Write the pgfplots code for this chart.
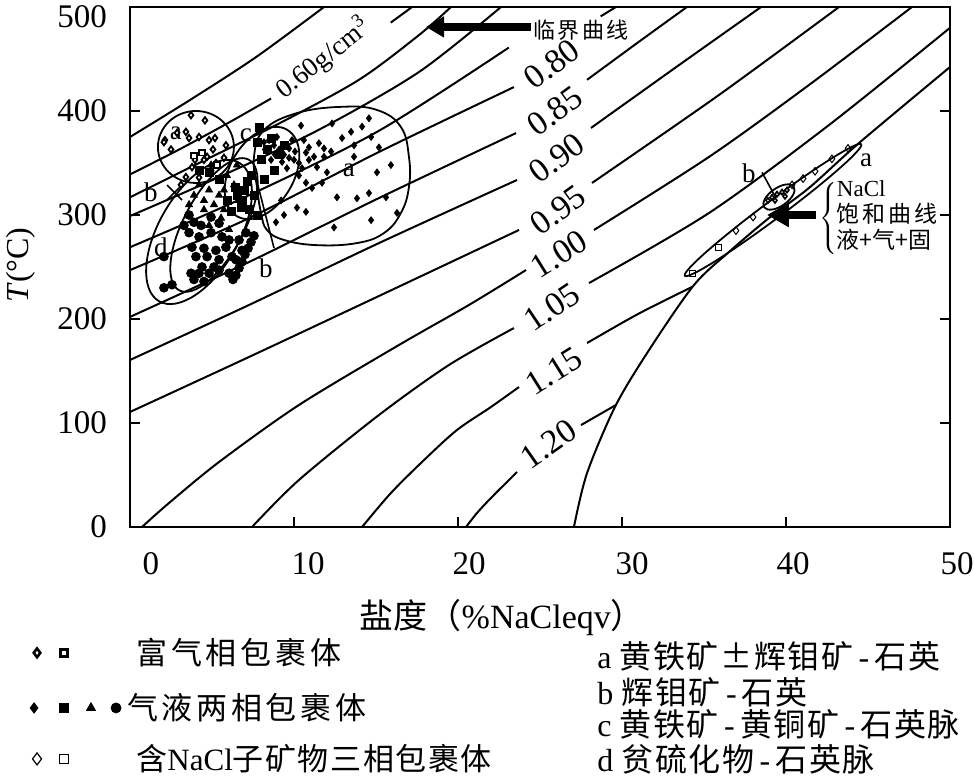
\documentclass[border=0pt]{standalone}
\usepackage{fontspec}
\setmainfont{Liberation Serif}
\newfontfamily\cjk{Noto Sans CJK SC}
\newfontfamily\cjkw[LetterSpace=12]{Noto Sans CJK SC}
\newfontfamily\cjkm[LetterSpace=5]{Noto Sans CJK SC}
\usepackage{pgfplots}
\pgfplotsset{compat=1.18}
\usetikzlibrary{arrows.meta,shapes.geometric}
\newcommand\fsz[1]{\fontsize{#1}{#1}\selectfont}
\newcommand\hy{\,-\,}
\tikzset{ell/.style={draw, ellipse, line width=0.9pt, inner sep=0pt}}
\pgfplotsset{iso/.style={black, line width=1pt, smooth, mark=none}}

\begin{document}
\begin{tikzpicture}
\useasboundingbox (-65pt,-124.5pt) rectangle (422pt,263.5pt);
\begin{axis}[
  at={(0pt,0pt)}, anchor=south west,
  scale only axis, width=410pt, height=260pt,
  xmin=0, xmax=50, ymin=0, ymax=500,
  xtick={0,10,20,30,40,50},
  xticklabels={\hspace*{14pt}0,\hspace*{7pt}10,\hspace*{4pt}20,\hspace*{3pt}30,40,50},
  ytick={0,100,200,300,400,500},
  yticklabels={0,100,200,300,400,\raisebox{-10pt}[0pt][0pt]{500}},
  tick align=inside, xtick pos=left, ytick pos=both,
  major tick length=5pt,
  axis line style={line width=1.2pt},
  every tick/.style={black, line width=1pt},
  tick label style={font=\fsz{16.5}},
  xticklabel style={yshift=-9pt, xshift=3.5pt},
  yticklabel style={xshift=-8pt},
  clip=false,
]

% isodensity lines (g/cm3), critical curve and halite saturation curve
\addplot[iso] coordinates {(0,375) (3.7,411) (7.7,452) (11.83,500)};
\addplot[iso] coordinates {(0,339) (3.0,363) (6.04,389) (8.6,412)};
\addplot[iso] coordinates {(15.9,485) (17.2,500)};
\addplot[iso] coordinates {(0,317) (4.21,350) (9.09,388) (13.96,430) (17.62,473) (19.57,500)};
\addplot[iso] coordinates {(0,299) (5.43,336.5) (11.52,382) (17.62,437.5) (22.62,500)};
\addplot[iso] coordinates {(0,269) (7.26,319) (15.18,381) (23.1,461)};
\addplot[iso] coordinates {(28.7,491) (29.63,500)};
\addplot[iso] coordinates {(0,247) (7.26,297) (15.18,360.6) (23.41,423)};
\addplot[iso] coordinates {(27.87,430) (30.98,466) (33.96,500)};
\addplot[iso] coordinates {(0,202) (7.26,254.8) (15.18,316.3) (23.54,378.8)};
\addplot[iso] coordinates {(28.11,383.7) (33.48,444.2) (38.48,500)};
\addplot[iso] coordinates {(0,160.6) (7.26,213.5) (15.18,273) (23.6,333.7)};
\addplot[iso] coordinates {(28.17,330.8) (35.91,415.4) (43.23,500)};
\addplot[iso] coordinates {(0,110.6) (7.26,163.5) (15.18,222.1) (23.72,285.6)};
\addplot[iso] coordinates {(28.29,285.6) (35.30,355.8) (41.40,425) (47.68,500)};
\addplot[iso] coordinates {(0.73,0) (2.38,23.1) (5.43,62.5) (10.30,117.3) (16.40,175) (20.67,213.5) (24.15,247.1)};
\addplot[iso] coordinates {(27.99,234.6) (35.30,301.9) (42.62,386.5) (50,480)};
\addplot[iso] coordinates {(7.44,0) (10.30,45.2) (15.18,107.7) (19.45,155.8) (23.41,191.3)};
\addplot[iso] coordinates {(27.87,176.9) (31.0,205) (34.27,230.8)};
\addplot[iso] coordinates {(14.15,0) (15.91,32.7) (17.93,64.4) (19.94,93.3) (22.01,115.4) (23.72,134.6)};
\addplot[iso] coordinates {(27.5,98) (29.63,117.3)};
\addplot[iso] coordinates {(20.49,0) (21.16,13.5) (22.01,27.9) (23.6,52.9)};
\addplot[iso] coordinates {(27.07,0) (27.87,51.9) (29.63,117.3) (31.77,173.1) (34.39,232.7) (36.52,264.4) (38.96,297.1) (41.40,326) (44.45,369.2) (50,442.3)};

% density labels
\node[rotate=38, font=\fsz{13.5}] at (axis cs:11.77,451) {0.60g/cm\textsuperscript{3}};
\node[rotate=37, font=\fsz{17}] at (axis cs:25.73,445) {0.80};
\node[rotate=36, font=\fsz{17}] at (axis cs:25.91,400) {0.85};
\node[rotate=37, font=\fsz{17}] at (axis cs:26.04,354.8) {0.90};
\node[rotate=36, font=\fsz{17}] at (axis cs:26.10,304.8) {0.95};
\node[rotate=32, font=\fsz{17}] at (axis cs:26.16,262.5) {1.00};
\node[rotate=34, font=\fsz{17}] at (axis cs:25.73,211.5) {1.05};
\node[rotate=32, font=\fsz{17}] at (axis cs:25.85,150) {1.15};
\node[rotate=35, font=\fsz{17}] at (axis cs:25.55,79.8) {1.20};

% arrows and notes
\draw[line width=4pt, -{Triangle[length=9pt, width=10pt]}] (axis cs:24.45,480.8) -- (axis cs:18.05,480.8);
\node[font=\cjkw\fsz{11}] at (axis cs:27.5,477.9) {临界曲线};
\draw[line width=4pt, -{Triangle[length=11pt, width=11.5pt]}] (axis cs:41.83,300) -- (axis cs:38.84,300);
\node[anchor=west, inner sep=0pt, font=\fsz{11.5}] at (axis cs:42.0,297.1)
  {$\left\{\begin{tabular}{@{}l@{}}NaCl\\{\cjkw 饱和曲线}\\{\cjk 液+气+固}\end{tabular}\right.$};

% fields
\node[ell, minimum width=38pt, minimum height=36pt] at (axis cs:4.02,365.4) {};
\node[ell, minimum width=50pt, minimum height=32pt, rotate=60] at (axis cs:8.05,340.4) {};
\node[ell, minimum width=74pt, minimum height=30pt, rotate=62] at (axis cs:5.12,290.4) {};
\node[ell, minimum width=80pt, minimum height=40pt, rotate=60] at (axis cs:4.21,283.7) {};
\node[ell, minimum width=110pt, minimum height=9pt, rotate=36.7] at (axis cs:39.21,304.8) {};
\node[ell, minimum width=18pt, minimum height=9pt, rotate=35] at (axis cs:39.57,317.3) {};
\draw[line width=0.9pt] plot[smooth cycle, tension=0.7] coordinates {
  (axis cs:8.17,381.7) (axis cs:10.18,398) (axis cs:12.87,404) (axis cs:15.06,401)
  (axis cs:16.52,384.6) (axis cs:17.01,355.8) (axis cs:17.01,327) (axis cs:16.52,302)
  (axis cs:15.49,282.7) (axis cs:13.84,273) (axis cs:11.40,271) (axis cs:9.39,276)
  (axis cs:8.35,285.6) (axis cs:7.99,302) (axis cs:7.74,327) (axis cs:7.56,355.8)};
\draw[line width=0.8pt] (axis cs:8.78,268.3) -- (axis cs:7.56,343.3);
\draw[line width=0.8pt] (axis cs:38.54,341) -- (axis cs:39.33,318);
\draw[line width=0.8pt] (axis cs:2.26,328.8) -- (axis cs:3.17,314.4);
\draw[line width=0.8pt] (axis cs:2.26,314.4) -- (axis cs:3.17,328.8);

% field letters
\node[font=\fsz{13.5}] at (axis cs:2.8,379) {a};
\node[font=\fsz{13.5}] at (axis cs:7.07,377) {c};
\node[font=\fsz{13.5}] at (axis cs:1.28,322) {b};
\node[font=\fsz{13.5}] at (axis cs:1.89,269) {d};
\node[font=\fsz{13.5}] at (axis cs:13.35,343) {a};
\node[font=\fsz{13.5}] at (axis cs:8.29,249) {b};
\node[font=\fsz{13.5}] at (axis cs:37.74,340) {b};
\node[font=\fsz{13.5}] at (axis cs:44.88,353) {a};

% vapour-rich inclusions
\addplot[only marks, mark=diamond*, mark size=1.6pt, mark options={fill=white, draw=black, line width=0.9pt}] coordinates {
 (2.13,372) (2.87,379) (3.41,380) (3.72,396) (4.57,391) (2.50,363) (4.82,372) (5.18,374) (5.85,367)
 (3.96,353) (4.51,353) (3.41,336.5) (4.94,343) (5.73,355) (3.60,374) (5.06,363) (4.21,336) (3.11,329)
 (2.07,370) (3.78,346) (4.70,356) (5.24,350) (4.21,375)};
\addplot[only marks, mark=square*, mark size=1.4pt, mark options={fill=white, draw=black, line width=0.9pt}] coordinates {
 (4.39,360) (5.30,348) (3.90,357)};

% two-phase inclusions
\addplot[only marks, mark=diamond*, mark size=1.7pt, black] coordinates {
 (10.43,386) (12.32,388) (14.57,393) (14.15,385) (13.48,380) (12.93,374) (15.18,365) (14.70,375)
 (13.66,367) (13.66,356) (11.83,364) (11.52,369) (10.91,365) (10.73,360) (11.22,356) (11.83,356)
 (12.26,361) (11.40,346) (12.01,341) (10.73,331) (11.10,326) (11.71,331) (12.62,317) (13.84,316)
 (14.57,321) (15.61,317) (15.06,341) (15.91,348) (16.28,302) (14.70,295) (12.44,288) (10.73,303)
 (10.18,307) (9.21,314) (8.90,293) (9.39,300)
 (8.48,372) (8.78,367) (9.09,363) (9.39,358) (9.70,355) (10.0,353) (10.30,350) (9.27,351)
 (8.84,358) (9.70,364) (10.06,361) (10.49,345) (8.60,353) (8.23,363) (9.57,345) (8.96,375)
 (9.88,372) (10.6,372) (10.3,338) (10.91,353) (8.17,370)};
\addplot[only marks, mark=square*, mark size=2pt, black] coordinates {
 (7.74,370) (8.35,363) (9.09,358) (7.99,353) (7.38,338) (6.95,324) (7.56,319) (7.26,305)
 (8.17,334) (8.78,343) (6.83,314) (6.52,319) (7.74,300) (9.39,367) (8.60,374) (7.13,332)
 (6.77,307) (6.16,303) (6.40,327) (7.87,384) (5.91,314) (4.82,341) (5.43,334) (4.21,343)};
\addplot[only marks, mark=triangle*, mark size=2pt, black] coordinates {
 (4.21,329) (4.82,324) (5.43,319) (4.51,314) (5.12,310) (5.73,305) (6.34,329) (5.91,338)
 (3.90,319) (6.65,314) (5.55,297) (4.82,290) (6.04,286) (4.94,348) (5.43,334) (6.95,310)
 (4.51,305) (6.52,348) (5.73,324) (3.60,310)};
\addplot[only marks, mark=*, mark size=2.2pt, black] coordinates {
 (3.90,293) (4.33,290) (4.94,298) (5.43,292) (3.60,283) (4.21,279) (4.94,283) (5.61,279)
 (6.04,276) (3.78,269) (4.51,268) (5.24,266) (5.85,269) (6.65,276) (4.02,260) (4.70,260)
 (5.43,257) (6.22,260) (4.39,250) (5.12,250) (3.72,244) (4.21,244) (4.82,244) (5.43,247)
 (2.07,260) (2.07,230) (2.56,233) (7.07,283) (6.83,266) (6.46,257) (6.04,244) (3.6,300)
 (3.29,290) (3.9,238) (4.51,236) (6.46,242) (6.65,249) (6.83,255) (7.01,262) (7.20,268)
 (7.38,274) (7.56,280) (6.28,238)};

% halite-bearing inclusions
\addplot[only marks, mark=diamond, mark size=1.9pt, mark options={line width=0.5pt}, black] coordinates {
 (36.95,285) (37.99,298) (40.37,329) (41.04,335) (41.77,342) (42.80,354) (43.78,364)};
\addplot[only marks, mark=square, mark size=1.5pt, mark options={line width=0.5pt}, black] coordinates {
 (34.27,244) (35.91,269)};
\addplot[only marks, mark=diamond*, mark size=1.3pt, mark options={fill=white, draw=black, line width=0.8pt}] coordinates {
 (39.15,317) (39.45,320) (39.76,322) (40.06,324) (39.33,314) (39.94,318) (38.9,314)};

% legend
\addplot[only marks, mark=diamond*, mark size=2.2pt, mark options={fill=white, draw=black, line width=1.3pt}] coordinates {(-5.67,-121)};
\addplot[only marks, mark=square*, mark size=1.8pt, mark options={fill=white, draw=black, line width=1.3pt}] coordinates {(-4.02,-121)};
\addplot[only marks, mark=diamond*, mark size=2.6pt, black] coordinates {(-5.85,-174)};
\addplot[only marks, mark=square*, mark size=2.2pt, black] coordinates {(-4.02,-174)};
\addplot[only marks, mark=triangle*, mark size=2.6pt, black] coordinates {(-2.38,-174)};
\addplot[only marks, mark=*, mark size=2.5pt, black] coordinates {(-0.85,-174)};
\addplot[only marks, mark=diamond, mark size=3pt, mark options={line width=0.6pt}, black] coordinates {(-5.67,-223)};
\addplot[only marks, mark=square, mark size=2.4pt, mark options={line width=0.6pt}, black] coordinates {(-4.02,-223)};

\node[anchor=west, inner sep=0pt, font=\cjkw\fsz{15.5}] at (axis cs:0.37,-121) {富气相包裹体};
\node[anchor=west, inner sep=0pt, font=\cjkw\fsz{15.5}] at (axis cs:-0.2,-174) {气液两相包裹体};
\node[anchor=west, inner sep=0pt, font=\fsz{15.5}] at (axis cs:0.37,-223) {{\cjkm 含}NaCl{\cjkm 子矿物三相包裹体}};
\node[anchor=west, inner sep=0pt, font=\fsz{16}] at (axis cs:28.48,-124) {a\ {\cjkm 黄铁矿±辉钼矿}\hy{\cjkm 石英}};
\node[anchor=west, inner sep=0pt, font=\fsz{16}] at (axis cs:28.48,-159) {b\ {\cjkm 辉钼矿}\hy{\cjkm 石英}};
\node[anchor=west, inner sep=0pt, font=\fsz{16}] at (axis cs:28.48,-190) {c\ {\cjkm 黄铁矿}\hy{\cjkm 黄铜矿}\hy{\cjkm 石英脉}};
\node[anchor=west, inner sep=0pt, font=\fsz{16}] at (axis cs:28.48,-223) {d\ {\cjkm 贫硫化物}\hy{\cjkm 石英脉}};

% axis titles
\node[font=\fsz{17}] at (axis cs:22.7,-87.5) {{\cjk 盐度（}\%NaCleqv{\cjk ）}};
\node[rotate=90, font=\fsz{16}] at (axis cs:-6.65,252) {\textit{T}(°C)};
\end{axis}
\end{tikzpicture}
\end{document}
